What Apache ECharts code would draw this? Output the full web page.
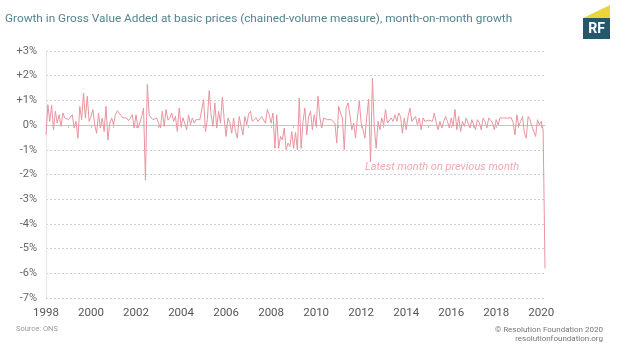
<!DOCTYPE html>
<html>
<head>
<meta charset="utf-8">
<script src="https://cdn.jsdelivr.net/npm/echarts@6/dist/echarts.min.js"></script>
<style>
html,body{margin:0;padding:0;background:#fff;}
#chart{width:620px;height:349px;}
</style>
</head>
<body>
<div id="chart"></div>
<script>
// Monthly categories Jan 1998 .. Mar 2020
var months = [];
(function(){
  for (var y = 1998; y <= 2020; y++) {
    for (var m = 1; m <= 12; m++) {
      if (y === 2020 && m > 3) break;
      months.push(y + '-' + (m < 10 ? '0' + m : m));
    }
  }
})();

// Month-on-month growth, %, one array per year
var g1998 = [-0.4, 0.83, 0.15, 0.8, -0.19, 0.56, 0.08, 0.42, -0.05, 0.49, 0.29, 0.35];
var g1999 = [0.22, 0.29, 0.42, -0.12, 0.15, -0.53, 0.76, 0.22, 1.3, 0.29, 1.17, 0.15];
var g2000 = [0.35, 0.63, 0.01, -0.33, 0.49, -0.12, 0.29, -0.26, 0.76, -0.6, 0.08, 0.29];
var g2001 = [0.01, 0.42, 0.58, 0.49, 0.42, 0.29, 0.22, 0.29, 0.18, 0.29, 0.42, -0.12];
var g2002 = [0.42, -0.12, 0.08, 0.35, 0.69, -2.23, 1.65, 0.4, 0.35, 0.22, 0.15, 0.29];
var g2003 = [0.35, -0.12, 0.56, -0.05, 0.63, 0.2, 0.29, 0.49, 0.15, 0.35, -0.26, 0.69];
var g2004 = [-0.05, 0.3, 0.22, -0.19, 0.42, 0.01, 0.29, 0.08, 0.22, 0.24, 0.22, 0.25];
var g2005 = [1.03, -0.26, 0.22, 1.4, 0.42, -0.05, 0.9, -0.12, 0.56, 0.08, 1.13, 0.22];
var g2006 = [-0.46, 0.29, 0.1, -0.33, 0.29, -0.26, -0.53, 0.35, -0.05, -0.4, 0.35, 0.01];
var g2007 = [0.45, 0.56, 0.15, 0.22, 0.3, 0.15, 0.22, 0.35, 0.2, 0.08, 0.63, 0.42];
var g2008 = [0.08, 0.49, -0.94, 0.42, -0.94, -0.46, -0.6, -0.12, -1.0, -0.73, -0.87, -0.26];
var g2009 = [-0.94, -0.3, -1.0, 1.1, -0.94, 0.15, 0.69, -0.4, 0.35, 0.56, -0.19, 0.42];
var g2010 = [-0.05, 1.17, 0.29, -0.12, 0.29, 0.35, 0.22, 0.29, 0.22, 0.29, 0.08, -0.73];
var g2011 = [0.76, 0.49, 0.29, -1.0, 0.69, 0.9, 0.42, -0.19, 0.08, -0.53, 0.29, 0.97];
var g2012 = [0.08, -0.19, -0.53, 0.35, 1.05, -1.5, 1.9, -0.05, -0.94, 0.15, -0.19, 0.29];
var g2013 = [0.01, 0.63, 0.08, 0.01, 0.29, 0.15, 0.42, 0.15, 0.49, 0.35, -0.33, 0.29];
var g2014 = [-0.19, 0.35, 0.69, 0.15, 0.08, 0.35, 0.01, 0.29, -0.19, 0.29, 0.15, 0.15];
var g2015 = [0.2, 0.22, 0.15, 0.49, 0.1, -0.19, 0.15, -0.12, 0.15, 0.35, 0.15, -0.12];
var g2016 = [0.29, -0.05, 0.63, -0.19, 0.35, -0.26, 0.15, -0.05, 0.29, 0.35, -0.12, 0.22];
var g2017 = [0.15, -0.19, 0.22, 0.1, -0.19, 0.29, 0.15, -0.12, 0.29, 0.2, 0.08, -0.19];
var g2018 = [0.22, 0.01, 0.29, 0.25, 0.29, 0.3, 0.28, 0.29, 0.3, 0.1, -0.4, 0.42];
var g2019 = [-0.05, 0.15, 0.35, -0.33, -0.53, 0.35, 0.22, -0.05, -0.05, -0.46, 0.22, 0.01];
var g2020 = [0.15, -0.2, -5.8];

var growth = [].concat(g1998, g1999, g2000, g2001, g2002, g2003, g2004, g2005, g2006,
  g2007, g2008, g2009, g2010, g2011, g2012, g2013, g2014, g2015, g2016, g2017, g2018, g2019, g2020);

var yTicks = [-7, -6, -5, -4, -3, -2, -1, 0, 1, 2, 3];

var titleText = 'Growth in Gross Value Added at basic prices (chained-volume measure), month-on-month growth';
var annotationText = 'Latest month on previous month';
var sourceText = 'Source: ONS';
var creditLines = ['\u00A9 Resolution Foundation 2020', 'resolutionfoundation.org'];

var chart = echarts.init(document.getElementById('chart'), null, {renderer: 'canvas'});
var FONT = 'Roboto, "Noto Sans", sans-serif';

var option = {
  animation: false,
  backgroundColor: '#ffffff',
  grid: {left: 46, right: 75, top: 51, bottom: 51, containLabel: false},
  xAxis: [{
    type: 'category',
    data: months,
    boundaryGap: false,
    axisLine: {show: false, onZero: false},
    axisTick: {show: false},
    splitLine: {show: false},
    axisLabel: {
      interval: function (idx) { return idx % 24 === 0; },
      formatter: function (v) { return v.slice(0, 4); },
      color: '#555',
      fontFamily: FONT,
      fontSize: 11.5,
      margin: 9
    }
  }, {
    type: 'category',
    data: months,
    boundaryGap: false,
    position: 'bottom',
    axisLine: {show: true, onZero: true, lineStyle: {color: '#c4c4c4', width: 1}},
    axisTick: {show: true, interval: function (idx) { return idx % 12 === 0; }, length: 3, lineStyle: {color: '#c4c4c4'}},
    axisLabel: {show: false},
    splitLine: {show: false}
  }],
  yAxis: {
    type: 'value',
    min: yTicks[0],
    max: yTicks[yTicks.length - 1],
    interval: 1,
    axisLine: {show: true, lineStyle: {color: '#e6e6e6'}},
    axisTick: {show: false},
    axisLabel: {
      formatter: function (v) { return (v > 0 ? '+' : '') + v + '%'; },
      color: '#666',
      fontFamily: FONT,
      fontSize: 11,
      margin: 9
    },
    splitLine: {show: true, lineStyle: {color: '#cfcfcf', type: [2, 2], width: 1}}
  },
  series: [{
    type: 'line',
    xAxisIndex: 0,
    data: growth,
    symbol: 'none',
    lineStyle: {color: '#e8959f', width: 1},
    z: 5
  }],
  graphic: [
    {type: 'text', left: 5, top: 13, style: {text: titleText, fill: '#55838f', font: '11.8px ' + FONT}},
    {type: 'text', left: 365, top: 162, style: {text: annotationText, fill: '#f0a9b1', font: 'italic 11px ' + FONT}},
    {type: 'text', left: 16, top: 325, style: {text: sourceText, fill: '#9a9a9a', font: '7.5px ' + FONT}},
    {type: 'text', right: 17, top: 326, style: {text: creditLines[0], fill: '#777', font: '8px ' + FONT, align: 'right'}},
    {type: 'text', right: 17, top: 335, style: {text: creditLines[1], fill: '#777', font: '8px ' + FONT, align: 'right'}},
    {type: 'polygon', shape: {points: [[583, 18], [610, 18], [610, 39], [583, 39]]}, style: {fill: '#24586d'}},
    {type: 'polygon', shape: {points: [[583, 18], [610, 5], [610, 18]]}, style: {fill: '#ead63c'}},
    {type: 'text', x: 596.5, y: 29.5, style: {text: 'RF', fill: '#ffffff', font: 'bold 14px ' + FONT, align: 'center', verticalAlign: 'middle'}}
  ]
};
chart.setOption(option);
</script>
</body>
</html>
